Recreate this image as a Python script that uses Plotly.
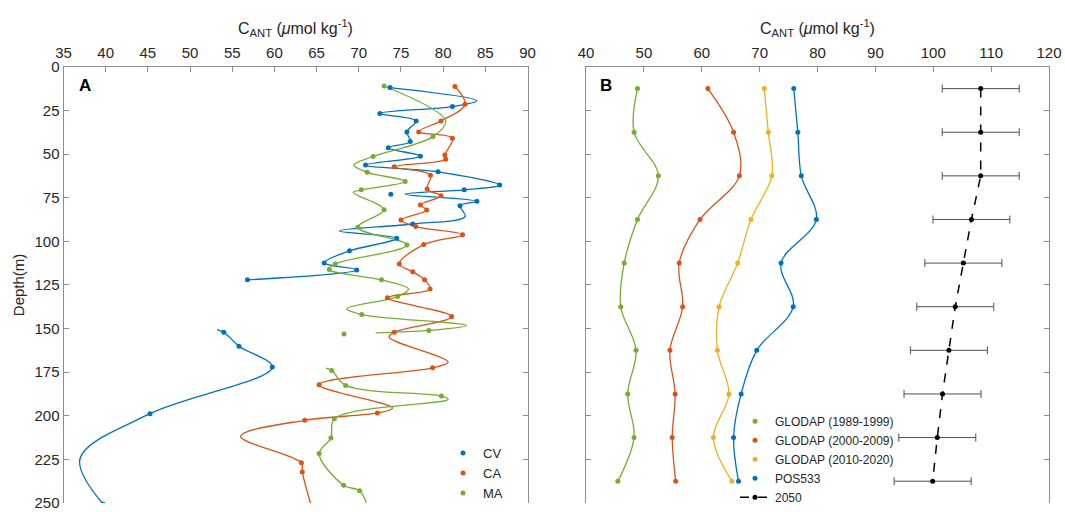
import plotly.graph_objects as go

# ---------------- Panel A data (depth m, C_ANT umol/kg) ----------------
# CV (blue) segment 1 markers
cv1_depth = [11.9, 22.8, 26.8, 31.0, 37.3, 42.8, 46.4, 51.2, 56.3, 60.2, 67.8, 70.5, 77.1, 79.6,
             90.1, 98.3, 105.5, 112.4, 116.4, 122.1]
cv1_value = [73.7, 81.1, 72.5, 76.8, 75.7, 76.1, 73.5, 77.3, 70.8, 79.4, 86.7, 82.5, 84.0, 82.0,
             76.4, 74.5, 68.9, 65.9, 69.75, 56.8]
# CV segment 1 curve bends
cv1_bend_depth = [19.5, 73.0, 85.7, 94.1]
cv1_bend_value = [84.0, 75.5, 82.6, 67.7]
# CV segment 2 markers
cv2_depth = [152.1, 160.1, 172.1, 198.8, 250.7]
cv2_value = [54.0, 55.8, 59.75, 45.25, 39.7]
cv2_bend_depth = [150.6, 224.5]
cv2_bend_value = [53.2, 36.96]
# CV isolated point
cv_iso_depth = [73.1]
cv_iso_value = [73.8]

# CA (orange) markers
ca_depth = [11.3, 21.5, 31.0, 37.3, 40.9, 50.6, 53.0, 57.3, 62.1, 70.1, 73.9, 79.2, 82.1, 87.8,
            91.6, 96.2, 101.9, 113.0, 117.4, 122.1, 127.3, 132.4, 143.1, 152.1, 172.5, 182.2,
            198.4, 202.6, 227.0, 232.2, 252.2]
ca_value = [81.4, 82.6, 79.75, 77.1, 81.1, 80.2, 80.3, 74.2, 78.5, 78.1, 79.75, 77.3, 78.05, 75.0,
            76.75, 82.3, 77.7, 74.8, 76.4, 77.8, 78.45, 73.4, 81.0, 74.2, 78.75, 65.3,
            72.2, 63.6, 63.2, 63.3, 64.4]
ca_bend_depth = [155.0, 169.2, 195.5, 211.8]
ca_bend_value = [73.6, 80.6, 74.0, 56.0]

# MA (green) segment 1 markers
ma1_depth = [11.0, 40.0, 51.4, 60.5, 65.7, 70.5, 81.9, 92.0, 102.1, 113.0, 116.2, 122.1, 131.7,
             142.0, 151.1]
ma1_value = [73.0, 78.8, 71.7, 71.0, 75.5, 70.3, 73.0, 69.9, 75.7, 67.2, 66.5, 72.7, 74.6,
             70.35, 78.3]
ma1_bend_depth = [31.0, 56.3, 72.0, 127.3, 138.7, 148.3, 152.5]
ma1_bend_value = [80.3, 69.4, 69.35, 75.9, 68.6, 82.8, 72.0]
# MA segment 2 markers
ma2_depth = [174.0, 182.6, 188.7, 201.7, 212.7, 221.7, 239.8, 243.0]
ma2_value = [66.8, 68.45, 79.8, 67.1, 66.7, 65.3, 68.2, 70.1]
ma2_bend_depth = [172.7, 190.6, 250.0]
ma2_bend_value = [66.1, 80.6, 70.9]
# MA isolated point
ma_iso_depth = [153.2]
ma_iso_value = [68.25]

# ---------------- Panel B data ----------------
b_depth = [12.5, 37.5, 62.5, 87.5, 112.5, 137.5, 162.5, 187.5, 212.5, 237.5]
glodap_1989_1999 = [48.9, 48.3, 52.5, 48.9, 46.6, 46.0, 48.65, 47.2, 48.3, 45.5]
glodap_2000_2009 = [61.05, 65.5, 66.5, 59.7, 56.1, 56.7, 54.5, 55.4, 54.9, 55.5]
glodap_2010_2020 = [70.8, 71.5, 72.1, 68.5, 66.2, 63.0, 62.7, 64.7, 62.0, 65.2]
pos533 = [75.9, 76.6, 77.2, 79.8, 73.7, 75.8, 69.5, 66.8, 65.5, 66.35]
proj_2050 = [108.2, 108.2, 108.2, 106.6, 105.2, 103.8, 102.7, 101.6, 100.7, 99.9]
proj_2050_err = [6.65] * 10

y_ticks = [0, 25, 50, 75, 100, 125, 150, 175, 200, 225, 250]

BLUE = "#0072BD"
ORANGE = "#D95319"
YELLOW = "#EDB120"
GREEN = "#77AC30"
FONT = "Arial, Liberation Sans, sans-serif"

W, H = 1065, 512
AX0, AX1 = 63.5, 527.5
BX0, BX1 = 586.0, 1049.0
PT = 68.0


def py(px):
    return 1 - px / H


def merged(d1, v1, d2, v2):
    pts = sorted(zip(list(d1) + list(d2), list(v1) + list(v2)))
    return [p[1] for p in pts], [p[0] for p in pts]


fig = go.Figure()


def line(xv, yv, color, xa, ya, width=1.3):
    fig.add_trace(go.Scatter(x=xv, y=yv, mode="lines", xaxis=xa, yaxis=ya,
                             line=dict(color=color, width=width, shape="spline", smoothing=1.0),
                             showlegend=False, hoverinfo="skip"))


def dots(xv, yv, color, xa, ya, name=None, legend=None, show=False):
    fig.add_trace(go.Scatter(x=xv, y=yv, mode="markers", xaxis=xa, yaxis=ya, name=name,
                             marker=dict(color=color, size=5), showlegend=show,
                             legend=legend))

# Panel A
x, y = merged(cv1_depth, cv1_value, cv1_bend_depth, cv1_bend_value)
line(x, y, BLUE, "x", "y")
x, y = merged(cv2_depth, cv2_value, cv2_bend_depth, cv2_bend_value)
line(x, y, BLUE, "x", "y")
x, y = merged(ca_depth, ca_value, ca_bend_depth, ca_bend_value)
line(x, y, ORANGE, "x", "y")
x, y = merged(ma1_depth, ma1_value, ma1_bend_depth, ma1_bend_value)
line(x, y, GREEN, "x", "y")
x, y = merged(ma2_depth, ma2_value, ma2_bend_depth, ma2_bend_value)
line(x, y, GREEN, "x", "y")

dots(cv1_value + cv2_value + cv_iso_value, cv1_depth + cv2_depth + cv_iso_depth, BLUE, "x", "y",
     name="CV", legend="legend", show=True)
dots(ca_value, ca_depth, ORANGE, "x", "y", name="CA", legend="legend", show=True)
dots(ma1_value + ma2_value + ma_iso_value, ma1_depth + ma2_depth + ma_iso_depth, GREEN, "x", "y",
     name="MA", legend="legend", show=True)

# Panel B
for vals, col, nm in [(glodap_1989_1999, GREEN, "GLODAP (1989-1999)"),
                      (glodap_2000_2009, ORANGE, "GLODAP (2000-2009)"),
                      (glodap_2010_2020, YELLOW, "GLODAP (2010-2020)"),
                      (pos533, BLUE, "POS533")]:
    line(vals, b_depth, col, "x2", "y2")
    dots(vals, b_depth, col, "x2", "y2", name=nm, legend="legend2", show=True)

fig.add_trace(go.Scatter(x=proj_2050, y=b_depth, mode="lines+markers", xaxis="x2", yaxis="y2",
                         name="2050", legend="legend2",
                         line=dict(color="black", width=1.5, dash="dash"),
                         marker=dict(color="black", size=5),
                         error_x=dict(type="data", array=proj_2050_err, visible=True,
                                      color="#505050", thickness=1, width=4)))

frame = "#8c8c8c"
tickc = "#262626"
common_x = dict(side="top", ticks="inside", ticklen=5, tickcolor=frame, showline=True,
                linecolor=frame, linewidth=1, mirror=False, showgrid=False, zeroline=False,
                tickfont=dict(family=FONT, size=15, color=tickc), automargin=False,
                ticklabelstandoff=2)
common_y = dict(range=[250, 0], tickvals=y_ticks, ticks="inside", ticklen=5, tickcolor=frame,
                showline=True, linecolor=frame, linewidth=1, mirror="ticks", showgrid=False,
                zeroline=False, tickfont=dict(family=FONT, size=15, color=tickc),
                automargin=False)

title_txt = "C<sub>ANT</sub> (<i>μ</i>mol kg<sup>-1</sup>)"
yd = [0.0, py(PT)]

fig.update_layout(
    width=W, height=H, margin=dict(l=0, r=0, t=0, b=0),
    paper_bgcolor="white", plot_bgcolor="white",
    font=dict(family=FONT, color=tickc),
    xaxis=dict(domain=[AX0 / W, AX1 / W], range=[35, 90], dtick=5, tick0=35, anchor="y",
               title=dict(text=title_txt, font=dict(family=FONT, size=16, color=tickc),
                          standoff=5), **common_x),
    yaxis=dict(domain=yd, anchor="x",
               title=dict(text="Depth(m)", font=dict(family=FONT, size=15, color=tickc),
                          standoff=6), **common_y),
    xaxis2=dict(domain=[BX0 / W, BX1 / W], range=[40, 120], dtick=10, tick0=40, anchor="y2",
                title=dict(text=title_txt, font=dict(family=FONT, size=16, color=tickc),
                           standoff=5), **common_x),
    yaxis2=dict(domain=yd, anchor="x2", showticklabels=False, **common_y),
    legend=dict(x=443 / W, y=py(446), xanchor="left", yanchor="top",
                bgcolor="rgba(0,0,0,0)", font=dict(family=FONT, size=13, color=tickc),
                borderwidth=0),
    legend2=dict(x=735 / W, y=py(414), xanchor="left", yanchor="top",
                 bgcolor="rgba(0,0,0,0)", font=dict(family=FONT, size=12, color=tickc),
                 borderwidth=0),
    annotations=[
        dict(text="<b>A</b>", x=(AX0 + 13) / W, y=py(87), xref="paper", yref="paper",
             showarrow=False, xanchor="left", yanchor="middle",
             font=dict(family=FONT, size=17, color="black")),
        dict(text="<b>B</b>", x=(BX0 + 12) / W, y=py(87), xref="paper", yref="paper",
             showarrow=False, xanchor="left", yanchor="middle",
             font=dict(family=FONT, size=17, color="black")),
    ],
)

fig.write_html("out.html")
